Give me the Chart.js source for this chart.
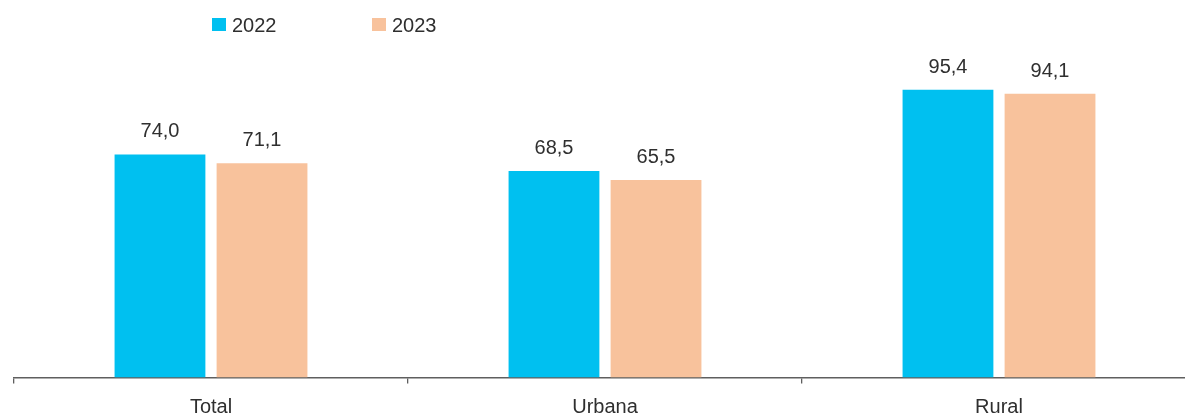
<!DOCTYPE html>
<html>
<head>
<meta charset="utf-8">
<script src="https://cdn.jsdelivr.net/npm/chart.js@4/dist/chart.umd.min.js"></script>
<style>
  html, body { margin: 0; padding: 0; background: #fff; overflow: hidden; }
  #wrap { position: relative; width: 1185px; height: 416px; overflow: hidden; }
  canvas { display: block; }
</style>
</head>
<body>
<div id="wrap"><canvas id="c" width="1220" height="416"></canvas></div>
<script>
const categories = ['Total', 'Urbana', 'Rural'];
const seriesNames = ['2022', '2023'];
const values2022 = [74.0, 68.5, 95.4];
const values2023 = [71.1, 65.5, 94.1];
const colors = ['#00C0F0', '#F8C29C'];

const FONT = '"Liberation Sans", Arial, sans-serif';
const TEXT = '#2f2f2f';
const AXIS = '#5f5f5f';

const fmt = v => v.toFixed(1).replace('.', ',');

// Value labels above each bar
const valueLabels = {
  id: 'valueLabels',
  afterDatasetsDraw(chart) {
    const ctx = chart.ctx;
    ctx.save();
    ctx.font = '20px ' + FONT;
    ctx.fillStyle = TEXT;
    ctx.textAlign = 'center';
    ctx.textBaseline = 'alphabetic';
    chart.data.datasets.forEach((ds, i) => {
      chart.getDatasetMeta(i).data.forEach((bar, j) => {
        ctx.fillText(fmt(ds.data[j]), bar.x, bar.y - 17);
      });
    });
    ctx.restore();
  }
};

// Legend row across the top
const topLegend = {
  id: 'topLegend',
  afterDraw(chart) {
    const ctx = chart.ctx;
    ctx.save();
    ctx.font = '20px ' + FONT;
    ctx.textAlign = 'left';
    ctx.textBaseline = 'alphabetic';
    const starts = [212, 372];
    chart.data.datasets.forEach((ds, i) => {
      const x = starts[i];
      ctx.fillStyle = ds.backgroundColor;
      ctx.fillRect(x, 18, 14, 13);
      ctx.fillStyle = TEXT;
      ctx.fillText(ds.label, x + 20, 32);
    });
    ctx.restore();
  }
};

new Chart(document.getElementById('c'), {
  type: 'bar',
  data: {
    labels: categories,
    datasets: [
      { label: seriesNames[0], data: values2022, backgroundColor: colors[0] },
      { label: seriesNames[1], data: values2023, backgroundColor: colors[1] }
    ]
  },
  options: {
    responsive: false,
    animation: false,
    devicePixelRatio: 1,
    layout: { padding: { left: 14, right: 24, top: 76, bottom: 0 } },
    datasets: { bar: { categoryPercentage: 0.518, barPercentage: 0.89 } },
    plugins: { legend: { display: false }, tooltip: { enabled: false } },
    scales: {
      x: {
        grid: {
          offset: true,
          drawOnChartArea: false,
          drawTicks: true,
          tickLength: 6,
          tickColor: AXIS,
          lineWidth: 1.3
        },
        border: { display: true, color: AXIS, width: 1.5 },
        ticks: {
          color: TEXT,
          font: { family: FONT, size: 20 },
          padding: 12
        },
        afterFit(scale) { scale.height = 38.5; }
      },
      y: { display: false, min: 0, max: 100 }
    }
  },
  plugins: [valueLabels, topLegend]
});
</script>
</body>
</html>
